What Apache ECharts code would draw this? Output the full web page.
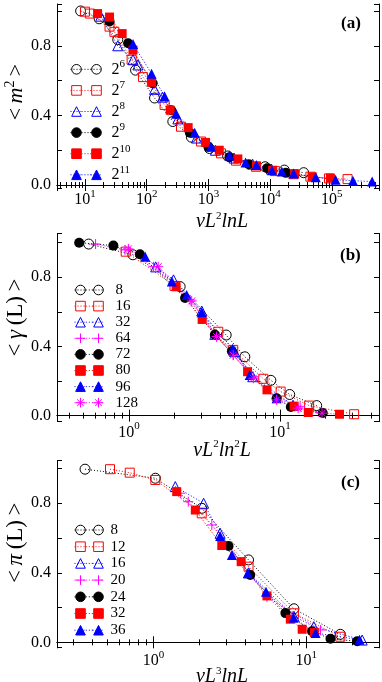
<!DOCTYPE html>
<html>
<head>
<meta charset="UTF-8"/>
<title></title>
<script src="https://cdn.jsdelivr.net/npm/echarts@6/dist/echarts.min.js"></script>
<style>
html, body { margin: 0; padding: 0; background: #fff; }
#chart { width: 382px; height: 682px; }
</style>
</head>
<body>
<div id="chart"></div>
<script>
// (a) <m^2> against vL^2 lnL, one list per L = 2^6 .. 2^11
var a6  = [[8.5,1.0],[17,0.955],[34,0.835],[66,0.66],[134,0.5],[265,0.365],[530,0.275],[1040,0.21],[2050,0.167],[8300,0.105],[17000,0.086],[35000,0.071]];
var a7  = [[10,0.996],[12,0.985],[25,0.91],[30,0.88],[57,0.72],[87,0.62],[195,0.46],[360,0.335],[760,0.25],[1600,0.182],[2800,0.14],[5900,0.105],[12000,0.08],[24000,0.062],[45000,0.048],[90000,0.038],[180000,0.034]];
var a8  = [[18,0.97],[34,0.8],[60,0.72],[72,0.69],[134,0.55],[180,0.505],[320,0.38],[640,0.27],[1300,0.2],[2600,0.155],[5200,0.12],[10500,0.092]];
var a9  = [[25,0.94],[50,0.815],[125,0.585],[250,0.43],[500,0.3],[1000,0.22],[2200,0.16],[4500,0.12],[9000,0.097],[18000,0.07]];
var a10 = [[16,0.985],[25,0.965],[40,0.87],[60,0.775],[120,0.59],[240,0.43],[470,0.33],[900,0.245],[1500,0.2],[3000,0.15],[6000,0.11],[11000,0.085],[25000,0.065],[48000,0.047],[95000,0.04]];
var a11 = [[60,0.81],[120,0.64],[195,0.51],[300,0.41],[600,0.3],[1100,0.22],[2200,0.17],[4000,0.13],[6000,0.115],[10700,0.085],[15500,0.078],[24000,0.066],[55000,0.045],[115000,0.03],[220000,0.025],[450000,0.02]];

// (b) <gamma(L)> against vL^2 ln^2 L
var b8   = [[0.54,0.992],[1.06,0.93],[2.18,0.746],[4.4,0.466],[5.85,0.34],[8.7,0.204],[11.6,0.122],[17.5,0.058]];
var b16  = [[0.95,0.948],[2.0,0.75],[3.9,0.485],[4.9,0.38],[7.75,0.213],[10.1,0.139],[15.6,0.058],[31,0.008]];
var b32  = [[1.5,0.86],[1.97,0.785],[3.03,0.605],[3.7,0.47],[5.0,0.37],[6.6,0.225],[12.2,0.06]];
var b64  = [[0.6,0.992],[0.94,0.958],[1.45,0.861],[2.54,0.669],[3.8,0.457],[4.9,0.351],[6.66,0.225],[9.5,0.1],[13.6,0.052],[18.4,0.02]];
var b72  = [[0.467,1.0],[0.787,0.983],[1.18,0.933],[2.35,0.68],[3.7,0.468],[4.8,0.372],[9.5,0.1],[11.8,0.05],[19.2,0.015]];
var b80  = [[2.05,0.745],[3.05,0.556],[6.1,0.254],[8.2,0.149],[12.4,0.055],[15.4,0.018],[24.8,0.008]];
var b96  = [[1.28,0.919],[1.92,0.775],[2.41,0.698],[3.03,0.598],[4.86,0.386],[6.3,0.235],[9.5,0.1]];
var b128 = [[0.99,0.964],[1.56,0.861],[2.6,0.663],[3.8,0.457],[4.9,0.35],[6.66,0.216],[9.5,0.091],[13.2,0.043],[19,0.014]];

// (c) <pi(L)> against vL^3 lnL
var c8  = [[0.357,0.996],[1.03,0.944],[2.07,0.771],[4.19,0.474],[8.3,0.193],[16.7,0.046]];
var c12 = [[0.52,0.996],[0.7,0.976],[1.03,0.934],[2.07,0.742],[4.19,0.435],[8.3,0.167],[16.7,0.032]];
var c16 = [[1.39,0.896],[2.13,0.8],[2.73,0.627],[4.2,0.4],[8.3,0.15],[11.2,0.09],[23.2,0.013]];
var c20 = [[1.5,0.858],[1.69,0.809],[2.41,0.675],[5.53,0.262],[12.4,0.071]];
var c24 = [[3.1,0.554],[4.3,0.387],[7.3,0.168],[10.9,0.064],[14.4,0.02],[21.5,0.006]];
var c32 = [[1.42,0.867],[1.88,0.761],[2.8,0.557],[3.75,0.464],[5.53,0.267],[7.86,0.133],[9.4,0.075],[11.3,0.056]];
var c36 = [[2.73,0.612],[3.26,0.502],[4.15,0.397],[5.45,0.291],[8.26,0.142],[11.5,0.053],[22.3,0.015]];

var namesA = ['a6','a7','a8','a9','a10','a11'];
var namesB = ['b8','b16','b32','b64','b72','b80','b96','b128'];
var namesC = ['c8','c12','c16','c20','c24','c32','c36'];

var F = 'Liberation Serif';
var K = '#000000', R = '#ff0000', B = '#0000ff', M = '#ff00ff';
var PLUS = 'path://M0,5L10,5M5,0L5,10';
var STAR = 'path://M5,0L5,10M0,5L10,5M1.5,1.5L8.5,8.5M8.5,1.5L1.5,8.5';

var oCirc = {sym: 'circle', c: K, open: true}, oRect = {sym: 'rect', c: R, open: true, size: 9},
    oTri = {sym: 'triangle', c: B, open: true}, plus = {sym: PLUS, c: M, open: true},
    fCirc = {sym: 'circle', c: K}, fRect = {sym: 'rect', c: R, size: 9},
    fTri = {sym: 'triangle', c: B}, star = {sym: STAR, c: M, open: true};

function line(name, data, st, gi) {
  return {
    name: name, type: 'line', xAxisIndex: gi, yAxisIndex: gi,
    data: data, symbol: st.sym, symbolSize: st.size || 10, showAllSymbol: true,
    lineStyle: {color: st.c, width: 1, type: [1, 2]},
    itemStyle: {color: st.open ? 'rgba(0,0,0,0)' : st.c, borderColor: st.c, borderWidth: st.open ? 1 : 0},
    emphasis: {disabled: true}, silent: true
  };
}

var series = [
  line('a6', a6, oCirc, 0), line('a7', a7, oRect, 0), line('a8', a8, oTri, 0),
  line('a9', a9, fCirc, 0), line('a10', a10, fRect, 0), line('a11', a11, fTri, 0),
  line('b8', b8, oCirc, 1), line('b16', b16, oRect, 1), line('b32', b32, oTri, 1), line('b64', b64, plus, 1),
  line('b72', b72, fCirc, 1), line('b80', b80, fRect, 1), line('b96', b96, fTri, 1), line('b128', b128, star, 1),
  line('c8', c8, oCirc, 2), line('c12', c12, oRect, 2), line('c16', c16, oTri, 2), line('c20', c20, plus, 2),
  line('c24', c24, fCirc, 2), line('c32', c32, fRect, 2), line('c36', c36, fTri, 2)
];

var grids = [
  {left: 57, top: 4, width: 322, height: 184, outerBoundsMode: 'none', containLabel: false},
  {left: 57, top: 233.5, width: 322, height: 188, outerBoundsMode: 'none', containLabel: false},
  {left: 57, top: 460.5, width: 322, height: 186.5, outerBoundsMode: 'none', containLabel: false}
];
var xRange = [[3.52, 5.82e5], [0.333, 45.3], [0.234, 29.9]];
var yRange = [[-0.017, 1.04], [-0.034, 1.053], [-0.027, 1.046]];

var sup = {fontFamily: F, fontSize: 11, lineHeight: 8, padding: [0, 0, 12, 0], color: '#000'};

function xLabel(v) {
  var e = Math.log10(v), r = Math.round(e);
  return Math.abs(e - r) < 1e-6 ? '{b|10}{s|' + r + '}' : '';
}
function yLabel(v) {
  var k = v / 0.4;
  return (v > -1e-9 && Math.abs(k - Math.round(k)) < 1e-6) ? v.toFixed(1) : '';
}

var T = '\u2009';
var xNames = ['{i|vL}{s|2}{i|lnL}', '{i|vL}{s|2}{i|ln}{s|2}{i|L}', '{i|vL}{s|3}{i|lnL}'];
var xGaps = [24, 19, 20];
var xMargins = [2, 1, 4];
var yNames = ['<' + T + '{i|m}{s|2}' + T + '>',
              '<' + T + '{i|\u03b3}' + T + '(L)' + T + '>',
              '<' + T + '{i|\u03c0}' + T + '(L)' + T + '>'];
var yNameSize = [22, 23, 23];
var yNamePad = [[0, 0, 0, 8], [0, 0, 0, 20], [0, 0, 0, 22]];

var xAxis = [], yAxis = [];
[0, 1, 2].forEach(function (g) {
  xAxis[g] = {
    type: 'log', gridIndex: g, min: xRange[g][0], max: xRange[g][1], position: 'bottom',
    axisLine: {lineStyle: {color: '#000', width: 1}},
    axisTick: {inside: true, length: 6, lineStyle: {color: '#000'}},
    minorTick: {show: true, splitNumber: 9, length: 3, lineStyle: {color: '#000'}},
    splitLine: {show: false},
    axisLabel: {formatter: xLabel, margin: xMargins[g], color: '#000',
      rich: {b: {fontFamily: F, fontSize: 16, lineHeight: 20, color: '#000'}, s: sup}},
    name: xNames[g], nameLocation: 'middle', nameGap: xGaps[g], nameMoveOverlap: false,
    nameTextStyle: {fontFamily: F, fontSize: 20, color: '#000', padding: [0, 0, 0, 8],
      rich: {i: {fontFamily: F, fontStyle: 'italic', fontSize: 20, lineHeight: 20, color: '#000'}, s: sup}}
  };
  xAxis[g + 3] = {
    type: 'log', gridIndex: g, min: xRange[g][0], max: xRange[g][1], position: 'top',
    axisLine: {lineStyle: {color: '#000', width: 1}},
    axisTick: {inside: true, length: 6, lineStyle: {color: '#000'}},
    minorTick: {show: true, splitNumber: 9, length: 3, lineStyle: {color: '#000'}},
    splitLine: {show: false}, axisLabel: {show: false}
  };
  yAxis[g] = {
    type: 'value', gridIndex: g, min: yRange[g][0], max: yRange[g][1], position: 'left',
    axisLine: {show: true, lineStyle: {color: '#000', width: 1}},
    axisTick: {inside: true, length: 5, lineStyle: {color: '#000'}},
    splitLine: {show: false},
    axisLabel: {formatter: yLabel, margin: 6, color: '#000', fontFamily: F, fontSize: 16},
    name: yNames[g], nameLocation: 'middle', nameGap: 30, nameMoveOverlap: false,
    nameTextStyle: {fontFamily: F, fontSize: yNameSize[g], color: '#000', padding: yNamePad[g],
      rich: {i: {fontFamily: F, fontStyle: 'italic', fontSize: yNameSize[g], color: '#000'},
             s: {fontFamily: F, fontSize: 14, lineHeight: 10, padding: [0, 0, 12, 0], color: '#000'}}}
  };
  yAxis[g + 3] = {
    type: 'value', gridIndex: g, min: yRange[g][0], max: yRange[g][1], position: 'right',
    axisLine: {show: true, lineStyle: {color: '#000', width: 1}},
    axisTick: {inside: true, length: 5, lineStyle: {color: '#000'}},
    splitLine: {show: false}, axisLabel: {show: false}
  };
});

// legend: symbol, dotted link, symbol + text, as three stacked legends
// the first two carry the same text in a clear colour so that all rows match
function legendSet(names, fmt, rowY, lh, x1, x2, fs, padL) {
  var clear = 'rgba(0,0,0,0)';
  var rich = {
    b: {fontFamily: F, fontSize: fs, lineHeight: lh, padding: [0, 0, 0, padL], color: '#000'},
    s: {fontFamily: F, fontSize: 11, lineHeight: 8, padding: [0, 0, 10, 0], color: '#000'},
    bh: {fontFamily: F, fontSize: fs, lineHeight: lh, padding: [0, 0, 0, padL], color: clear},
    sh: {fontFamily: F, fontSize: 11, lineHeight: 8, padding: [0, 0, 10, 0], color: clear}
  };
  function base(extra) {
    var o = {orient: 'vertical', top: rowY - lh / 2, padding: 0, itemGap: 0, itemHeight: 12,
      selectedMode: false, data: names,
      textStyle: {fontFamily: F, fontSize: fs, lineHeight: lh, color: '#000', rich: rich},
      itemStyle: {borderWidth: 1}, lineStyle: {width: 1}};
    for (var k in extra) o[k] = extra[k];
    return o;
  }
  var hidden = function (n) { return fmt(n).replace(/\{b\|/g, '{bh|').replace(/\{s\|/g, '{sh|'); };
  return [
    base({left: x1 - 6, itemWidth: 12, formatter: hidden}),
    base({left: x1 + 5, itemWidth: x2 - x1 - 10, formatter: hidden,
      itemStyle: {opacity: 0, color: clear, borderColor: clear, borderWidth: 0}}),
    base({left: x2 - 6, itemWidth: 12, formatter: fmt})
  ];
}
var powLabel = function (n) { return '{b|2}{s|' + n.slice(1) + '}'; };
var numLabel = function (n) { return '{b|' + n.slice(1) + '}'; };

var legend = [].concat(
  legendSet(namesA, powLabel, 69.3, 21.1, 76, 96, 16, 4),
  legendSet(namesB, numLabel, 290, 16.1, 80, 98, 15, 6),
  legendSet(namesC, numLabel, 530, 16.7, 80, 98, 15, 1)
);

var titleStyle = {fontFamily: F, fontSize: 17, fontWeight: 'bold', color: '#000'};
var title = [
  {text: '(a)', left: 341, top: 15, padding: 0, textStyle: titleStyle},
  {text: '(b)', left: 340, top: 247, padding: 0, textStyle: titleStyle},
  {text: '(c)', left: 341, top: 474, padding: 0, textStyle: titleStyle}
];

var chart = echarts.init(document.getElementById('chart'));
chart.setOption({
  backgroundColor: '#ffffff',
  animation: false,
  title: title,
  grid: grids,
  xAxis: xAxis,
  yAxis: yAxis,
  legend: legend,
  series: series
});
</script>
</body>
</html>
